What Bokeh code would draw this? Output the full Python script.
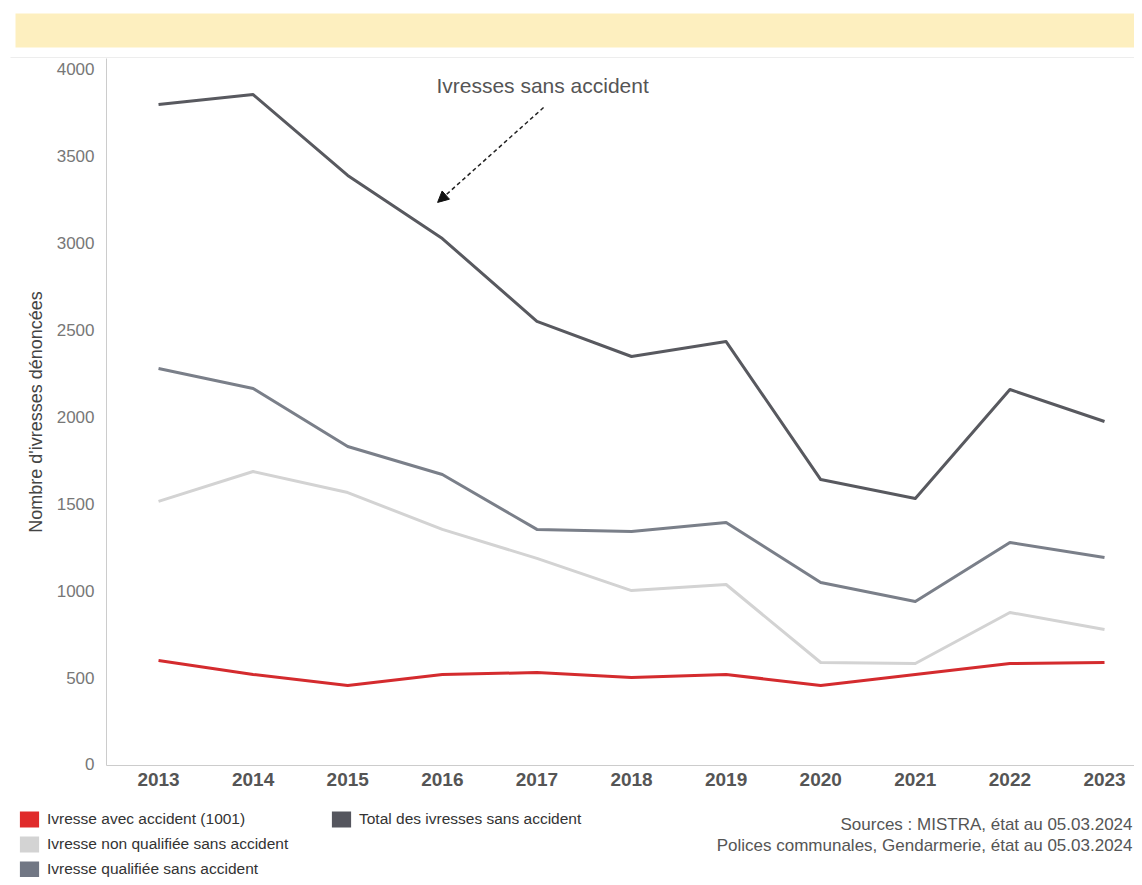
from bokeh.plotting import figure
from bokeh.layouts import column
from bokeh.models import (ColumnDataSource, FixedTicker, Legend, LegendItem, Label,
                          Arrow, NormalHead, BoxAnnotation, Range1d)
from bokeh.embed import file_html
from bokeh.resources import INLINE

# ---------------- data ----------------
years = [2013, 2014, 2015, 2016, 2017, 2018, 2019, 2020, 2021, 2022, 2023]
avec_accident = [599, 518, 455, 518, 529, 501, 518, 455, 518, 581, 587]
non_qualifiee = [1514, 1686, 1565, 1353, 1186, 1001, 1036, 587, 581, 875, 777]
qualifiee = [2279, 2164, 1830, 1669, 1353, 1341, 1393, 1047, 938, 1278, 1191]
total_sans = [3798, 3856, 3390, 3027, 2550, 2348, 2434, 1640, 1531, 2158, 1974]
y_ticks = [0, 500, 1000, 1500, 2000, 2500, 3000, 3500, 4000]
series_labels = ["Ivresse avec accident (1001)",
                 "Ivresse non qualifiée sans accident",
                 "Ivresse qualifiée sans accident",
                 "Total des ivresses sans accident"]
line_colors = ["#d42b2e", "#d3d3d3", "#7a7f89", "#58595f"]
legend_colors = ["#e02a2a", "#d3d3d3", "#717784", "#55565e"]
annotation_text = "Ivresses sans accident"
source_lines = ["Sources : MISTRA, état au 05.03.2024",
                "Polices communales, Gendarmerie, état au 05.03.2024"]
y_title = "Nombre d'ivresses dénoncées"

FONT = "Liberation Sans"
W = 1134
TOP_H = 58
MAIN_H = 747
BOT_H = 877 - TOP_H - MAIN_H


def blank_fig(h, y0, y1):
    f = figure(width=W, height=h, x_range=Range1d(0, W), y_range=Range1d(y0, y1),
               x_axis_type=None, y_axis_type=None, output_backend="svg",
               toolbar_location=None, min_border=0, min_border_left=0,
               min_border_right=0, min_border_top=0, min_border_bottom=0,
               background_fill_color="white", border_fill_color="white",
               outline_line_color=None, frame_align=False)
    f.grid.visible = False
    return f


# ---------------- top band ----------------
top = blank_fig(TOP_H, TOP_H, 0)
top.add_layout(BoxAnnotation(left=15, right=W, top=13, bottom=47,
                             fill_color="#fdefbf", fill_alpha=1, line_color=None))
top.add_layout(BoxAnnotation(left=10, right=W, top=57, bottom=58,
                             fill_color="#dcdcdc", fill_alpha=1, line_color=None))

# ---------------- main chart ----------------
p = figure(width=W, height=MAIN_H,
           x_range=Range1d(2012.45, 2023.317), y_range=Range1d(-5.8, 4063.3),
           output_backend="svg", toolbar_location=None,
           min_border_left=106, min_border_right=0, min_border_top=0, min_border_bottom=40,
           background_fill_color="white", border_fill_color="white",
           outline_line_color=None, frame_align=False)

p.xgrid.visible = False
p.ygrid.visible = False

p.yaxis.ticker = FixedTicker(ticks=y_ticks)
p.yaxis.major_tick_line_color = None
p.yaxis.minor_tick_line_color = None
p.yaxis.axis_line_color = "#cccccc"
p.yaxis.major_label_text_font = FONT
p.yaxis.major_label_text_font_size = "17px"
p.yaxis.major_label_text_color = "#777777"
p.yaxis.major_label_standoff = 6
p.yaxis.axis_label = y_title
p.yaxis.axis_label_text_font = FONT
p.yaxis.axis_label_text_font_size = "18px"
p.yaxis.axis_label_text_font_style = "normal"
p.yaxis.axis_label_text_color = "#444444"
p.yaxis.axis_label_standoff = 8

p.xaxis.ticker = FixedTicker(ticks=years)
p.xaxis.major_tick_line_color = None
p.xaxis.minor_tick_line_color = None
p.xaxis.axis_line_color = "#cccccc"
p.xaxis.major_label_text_font = FONT
p.xaxis.major_label_text_font_size = "19px"
p.xaxis.major_label_text_font_style = "bold"
p.xaxis.major_label_text_color = "#555555"
p.xaxis.major_label_standoff = 1

src = ColumnDataSource(dict(x=years, a=avec_accident, n=non_qualifiee, q=qualifiee, t=total_sans))
for col, c in zip(["a", "n", "q", "t"], line_colors):
    p.line("x", col, source=src, line_color=c, line_width=3, line_join="round")

p.add_layout(Label(x=2017.06, y=3908, text=annotation_text, text_align="center",
                   text_baseline="middle", text_font=FONT, text_font_size="21px",
                   text_color="#555555"))
p.add_layout(Arrow(end=NormalHead(size=11, fill_color="#111111", line_color="#111111"),
                   x_start=2017.07, y_start=3781, x_end=2015.95, y_end=3235,
                   line_color="#222222", line_width=1.5, line_dash="4 3"))

# ---------------- bottom: legend + sources ----------------
bot = blank_fig(BOT_H, 877, TOP_H + MAIN_H)
nan = float("nan")
leg_src = ColumnDataSource(dict(l=[nan], r=[nan], t=[nan], b=[nan]))
proxies = [bot.quad(left="l", right="r", top="t", bottom="b", source=leg_src,
                    fill_color=c, line_color=None) for c in legend_colors]


def make_legend(idx, loc):
    return Legend(items=[LegendItem(label=series_labels[i], renderers=[proxies[i]]) for i in idx],
                  location=loc, orientation="vertical",
                  glyph_width=24, glyph_height=20, label_height=20, spacing=5,
                  label_standoff=6, padding=0, margin=0,
                  label_text_font=FONT, label_text_font_size="15.5px",
                  label_text_color="#333333",
                  background_fill_alpha=0, border_line_color=None)


bot.add_layout(make_legend([0, 1, 2], (17, -2)))
bot.add_layout(make_legend([3], (329, 48)))

for i, txt in enumerate(source_lines):
    bot.add_layout(Label(x=1132, y=824 + 21 * i, text=txt, text_align="right",
                         text_baseline="middle", text_font=FONT, text_font_size="17px",
                         text_color="#555555"))

layout = column(top, p, bot, spacing=0)
open("out.html", "w").write(file_html(layout, INLINE))
